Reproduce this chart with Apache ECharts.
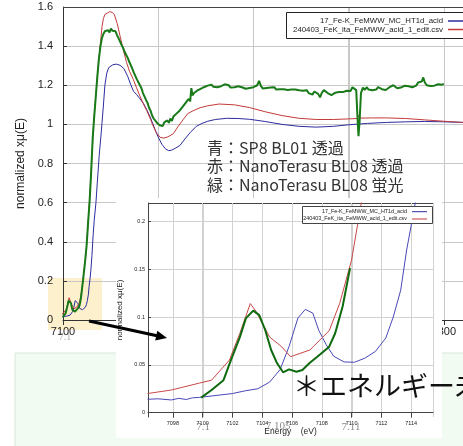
<!DOCTYPE html>
<html><head><meta charset="utf-8">
<script src="https://cdn.jsdelivr.net/npm/echarts@6/dist/echarts.min.js"></script>
<style>html,body{margin:0;padding:0;background:#fff}#c{width:463px;height:446px}</style>
</head><body><div id="c"></div>
<script>
// ---------- data (energy eV, normalized xmu) ----------
const nameBlue = '17_Fe-K_FeMWW_MC_HT1d_acid';
const nameRed = '240403_FeK_ita_FeMWW_acid_1_edit.csv';
const nameGreen = 'NanoTerasu BL08 fluorescence';

const blueData = [
[7096.3,0.014],[7097,0.0145],[7097.9,0.0133],[7098.4,0.015],[7098.9,0.0138],[7099.3,0.0155],[7099.8,0.016],
[7100.9,0.018],[7102,0.02],[7102.9,0.023],[7103.7,0.025],[7104.5,0.032],[7105.2,0.045],[7105.8,0.069],
[7106.4,0.099],[7106.9,0.108],[7107.4,0.104],[7107.8,0.086],[7108.3,0.071],[7108.8,0.059],[7109.5,0.053],
[7110.2,0.0527],[7110.9,0.057],[7111.6,0.064],[7112.3,0.078],[7112.8,0.1],[7113.3,0.128],[7113.7,0.17],
[7114.2,0.212],[7114.6,0.25],[7115.2,0.33],[7115.8,0.43],[7116.4,0.51],[7117.3,0.6],[7118,0.7],[7119,0.84],
[7120,0.95],[7120.5,1.01],[7121.2,1.094],[7122,1.2],[7123,1.262],[7124,1.29],[7126,1.304],[7128,1.308],
[7130,1.302],[7132,1.285],[7134,1.245],[7135.5,1.205],[7137,1.17],[7138.7,1.152],[7140.5,1.13],[7142.2,1.108],
[7144,1.075],[7145.7,1.04],[7148.3,0.975],[7150,0.935],[7152,0.897],[7154,0.873],[7155.5,0.866],[7157,0.868],
[7159,0.878],[7161.4,0.892],[7164,0.925],[7166.7,0.957],[7170,0.99],[7173,1.005],[7176,1.016],[7180,1.025],
[7186,1.031],[7192,1.03],[7198,1.026],[7206,1.015],[7215,1.0],[7224,0.99],[7233,0.986],[7242,0.99],
[7250,0.998],[7260,1.005],[7270,1.01],[7280,1.013],[7290,1.015],[7300,1.013],[7310,1.01],[7325,1.007],[7340,1.005]
];

const redData = [
[7096.3,0.02],[7097.9,0.0237],[7099.8,0.031],[7100.6,0.034],[7101.8,0.055],[7102.5,0.083],[7103.2,0.114],
[7103.6,0.1055],[7104.5,0.079],[7105.3,0.069],[7105.9,0.0585],[7107.2,0.0655],[7108.5,0.0857],[7109.2,0.114],
[7110,0.1595],[7110.5,0.205],[7111,0.25],[7112,0.33],[7113,0.47],[7114,0.62],[7115,0.8],[7116,0.99],
[7117,1.12],[7118,1.24],[7119,1.35],[7119.8,1.43],[7120.5,1.5],[7121.2,1.54],[7122,1.562],[7123,1.572],
[7124.5,1.576],[7126,1.572],[7127,1.56],[7128.5,1.515],[7130,1.45],[7131.7,1.38],[7133.4,1.316],[7135,1.27],
[7136.9,1.23],[7138.5,1.19],[7140.4,1.145],[7142.2,1.105],[7144,1.07],[7146,1.025],[7147.4,0.991],[7149,0.958],
[7151,0.934],[7153,0.93],[7155,0.936],[7157.9,0.952],[7160.5,0.99],[7163.2,1.026],[7165.5,1.055],[7168.4,1.07],
[7172,1.085],[7176,1.095],[7182,1.104],[7190,1.1],[7198,1.086],[7206,1.065],[7215,1.045],[7224,1.031],
[7233,1.025],[7242,1.025],[7250,1.028],[7254.5,1.03],[7255.4,1.048],[7256.3,1.032],[7262,1.033],[7270,1.033],
[7280,1.03],[7290,1.023],[7300,1.016],[7310,1.01],[7325,1.006],[7340,1.002]
];

const greenPreEdge = [
[7099.9,0.0157],[7100.6,0.0237],[7101.4,0.034],[7101.9,0.055],[7102.5,0.079],[7102.9,0.0986],[7103.4,0.1066],
[7103.8,0.102],[7104.2,0.0864],[7104.6,0.0655],[7105.0,0.0516],[7105.4,0.0422],[7105.8,0.0453],[7106.3,0.0428],
[7106.7,0.0446],[7107.2,0.0522],[7107.7,0.0585],[7108.1,0.0637],[7108.5,0.069],[7108.9,0.083],[7109.4,0.111],
[7109.9,0.151]
];

const greenEdge = [
[7110.6,0.21],[7111.5,0.29],[7112.4,0.38],[7113.2,0.5],[7114,0.61],[7114.8,0.76],[7115.6,0.93],[7116.4,1.04],
[7117.2,1.14],[7118,1.24],[7118.8,1.33],[7119.6,1.395],[7120.4,1.44],[7121.2,1.462],[7122,1.476],[7122.8,1.468],
[7123.6,1.482],[7124.4,1.47],[7125.2,1.49],[7126,1.478],[7126.8,1.47],[7127.6,1.476],[7128.4,1.455],[7129.2,1.44],
[7130,1.43],[7130.8,1.405],[7131.6,1.39],[7132.4,1.37],[7133.2,1.355],[7134,1.34],[7134.8,1.32],[7135.6,1.31],
[7136.4,1.285],[7137.2,1.265],[7138,1.255],[7138.8,1.23],[7139.6,1.215],[7140.4,1.2],[7141.2,1.185],[7142,1.16],
[7142.8,1.15],[7143.6,1.125],[7144.4,1.11],[7145.2,1.085],[7146,1.07],[7146.8,1.045],[7147.6,1.03],[7148.4,1.02],
[7149.2,1.01],[7150,1.015],[7150.8,0.995],[7151.6,1.005],[7152.4,0.992],[7153.2,1.01],[7154,1.0],[7154.8,1.02],
[7155.6,1.008],[7156.4,1.03],[7157.2,1.018],[7158,1.04],[7158.8,1.03],[7159.6,1.055],[7160.4,1.045],[7161.2,1.07],
[7162,1.062],[7162.8,1.09],[7163.6,1.08],[7164.4,1.11],[7165.2,1.1],[7166,1.13],[7166.8,1.118],[7167.4,1.185],
[7168,1.148],[7168.8,1.16],[7169.6,1.15],[7170.4,1.172],[7171.2,1.165],[7172,1.18],[7173,1.17],[7174,1.19],
[7175,1.182],[7176,1.198],[7177,1.19],[7178,1.203],[7179,1.192],[7180,1.2],[7181,1.19],[7182,1.185],[7183,1.195],
[7184,1.19],[7185,1.205],[7186,1.198],[7187,1.2],[7188,1.188],[7189,1.195],[7190,1.19],[7191,1.2],[7192,1.195],
[7193,1.202],[7194,1.19],[7195,1.185],[7196,1.182],[7197,1.19],[7198,1.186],[7199,1.196],[7200,1.19],[7201,1.185],
[7202,1.2],[7203,1.222],[7204,1.196],[7205,1.183],[7206,1.19],[7207,1.186],[7208,1.195],[7209,1.188],[7210,1.183],
[7211,1.19],[7212,1.178],[7213,1.185],[7214,1.18],[7215,1.186],[7216,1.179],[7217,1.183],[7218,1.176],[7219,1.181],
[7220,1.178],[7221,1.184],[7222,1.178],[7223,1.182],[7224,1.174],[7225,1.18],[7226,1.172],[7227,1.165],[7228,1.175],
[7229,1.16],[7230,1.17],[7231,1.152],[7232,1.168],[7233,1.16],[7234,1.156],[7235,1.138],[7236,1.162],[7237,1.175],
[7238,1.168],[7239,1.16],[7240,1.17],[7241,1.15],[7242,1.148],[7243,1.162],[7244,1.172],[7245,1.165],[7246,1.175],
[7247,1.165],[7248,1.158],[7249,1.172],[7250,1.178],[7251,1.17],[7252,1.19],[7253,1.196],[7254,1.175],[7254.6,1.05],
[7255.2,0.94],[7255.8,1.02],[7256.5,1.16],[7257.5,1.188],[7258.5,1.176],[7259.5,1.19],[7260.5,1.178],[7261.5,1.185],
[7262.5,1.174],[7263.5,1.182],[7264.5,1.178],[7265.5,1.19],[7266.5,1.194],[7267.5,1.18],[7268.5,1.187],[7269.5,1.176],
[7270.5,1.185],[7271.5,1.19],[7272.5,1.18],[7273.5,1.2],[7274.5,1.19],[7275.5,1.185],[7276.5,1.195],[7277.5,1.188],
[7278.5,1.19],[7279.5,1.198],[7280.5,1.205],[7281.5,1.195],[7282.5,1.2],[7283.5,1.19],[7284.5,1.2],[7285.5,1.198],
[7286.5,1.214],[7287.5,1.205],[7288.5,1.22],[7289.2,1.24],[7290,1.215],[7291,1.2],[7292,1.205],[7293,1.196],
[7294,1.192],[7295,1.198],[7296,1.2],[7297,1.205],[7298,1.2],[7299,1.203],[7300,1.206]
];

const greenData = greenPreEdge.concat(greenEdge);

// axis extents and vertical grid tick values
const mainXRange = [7100, 7350];
const mainYRange = [0, 1.6];
const insetXRange = [7096.33, 7115.47];
const insetYRange = [-0.0045, 0.2191];
const mainGridX = [7150, 7200, 7250, 7300];
const insetGridX = [7098, 7100, 7102, 7104, 7106, 7108, 7110, 7112, 7114];

const annotationLines = ['青：SP8 BL01 透過', '赤：NanoTerasu BL08 透過', '緑：NanoTerasu BL08 蛍光'];
const ghostLabels = ['7.1', '7.105', '7.11'];
const bigNote = '＊エネルギー未';

// ---------- chart ----------
const FONT = '"Liberation Sans", Arial, sans-serif';
const JP = '"Noto Sans CJK JP", sans-serif';
const intFmt = v => String(Math.round(v));

const chart = echarts.init(document.getElementById('c'), null, {renderer: 'canvas'});

const legendBase = {orient: 'vertical', align: 'right', padding: 0, selectedMode: false, icon: 'rect', itemGap: 0};
const txt = (id, x, y, text, size, family, fill, z, align) => ({id: id, type: 'text', x: x, y: y, z: z, silent: true,
  style: {text: text, fontSize: size, fontFamily: family, fill: fill, align: align || 'left', textAlign: align || 'left',
          verticalAlign: 'middle', textVerticalAlign: 'middle'}});

const option = {
  animation: false,
  backgroundColor: '#ffffff',
  grid: [
    {left: 63, top: 7, right: -76, bottom: 126, outerBoundsMode: 'none', containLabel: false},
    {left: 148, top: 203, right: 30, bottom: 29, outerBoundsMode: 'none', containLabel: false}
  ],
  xAxis: [
    {gridIndex: 0, type: 'value', min: mainXRange[0], max: mainXRange[1], interval: 50,
     axisLine: {lineStyle: {color: '#333'}},
     axisLabel: {fontSize: 11, color: '#222', margin: 6, fontFamily: FONT, formatter: intFmt},
     splitLine: {show: true, lineStyle: {color: '#c8c8c8'}}},
    {gridIndex: 1, type: 'value', min: insetXRange[0], max: insetXRange[1], splitNumber: 10, minInterval: 2, maxInterval: 2, z: 12,
     axisLine: {lineStyle: {color: '#444'}},
     axisLabel: {fontSize: 5.5, color: '#222', margin: 3, fontFamily: FONT, formatter: intFmt, showMinLabel: false, showMaxLabel: false},
     splitLine: {show: true, lineStyle: {color: '#d2d2d2'}},
     name: 'Energy    (eV)', nameLocation: 'middle', nameGap: 8.5,
     nameTextStyle: {fontSize: 8.5, color: '#222', fontFamily: FONT}}
  ],
  yAxis: [
    {gridIndex: 0, type: 'value', min: mainYRange[0], max: mainYRange[1], interval: 0.2,
     axisLine: {show: true, lineStyle: {color: '#333'}},
     axisTick: {show: true, inside: true, length: 4, lineStyle: {color: '#333'}},
     axisLabel: {fontSize: 11, color: '#222', margin: 10, fontFamily: FONT},
     splitLine: {show: true, showMaxLine: false, lineStyle: {color: '#c8c8c8'}},
     name: 'normalized xμ(E)', nameLocation: 'middle', nameGap: 32,
     nameTextStyle: {fontSize: 12, color: '#222', fontFamily: FONT}},
    {gridIndex: 1, type: 'value', min: insetYRange[0], max: insetYRange[1], splitNumber: 5, minInterval: 0.05, maxInterval: 0.05, z: 12,
     axisLine: {show: true, lineStyle: {color: '#444'}},
     axisTick: {show: true, inside: true, length: 3, lineStyle: {color: '#444'}},
     axisLabel: {fontSize: 5.5, color: '#222', margin: 3, fontFamily: FONT, showMinLabel: false, showMaxLabel: false},
     splitLine: {show: true, showMinLine: false, showMaxLine: false, lineStyle: {color: '#d2d2d2'}},
     name: 'normalized xμ(E)', nameLocation: 'middle', nameGap: 21,
     nameTextStyle: {fontSize: 8, color: '#222', fontFamily: FONT}}
  ],
  legend: [
    Object.assign({}, legendBase, {data: [nameBlue], right: -7, top: 17, itemWidth: 22, itemHeight: 1.5, z: 5,
      textStyle: {fontFamily: FONT, color: '#222', fontSize: 7.8, lineHeight: 8}}),
    Object.assign({}, legendBase, {data: [nameRed], right: -7, top: 25.5, itemWidth: 22, itemHeight: 1.5, z: 5,
      textStyle: {fontFamily: FONT, color: '#222', fontSize: 7.8, lineHeight: 8}}),
    Object.assign({}, legendBase, {data: [nameBlue], right: 36, top: 208.7, itemWidth: 15, itemHeight: 1, z: 15,
      textStyle: {fontFamily: FONT, color: '#222', fontSize: 5.4, lineHeight: 6}}),
    Object.assign({}, legendBase, {data: [nameRed], right: 36, top: 216, itemWidth: 15, itemHeight: 1, z: 15,
      textStyle: {fontFamily: FONT, color: '#222', fontSize: 5.4, lineHeight: 6}})
  ],
  series: [
    {name: nameBlue, type: 'line', xAxisIndex: 0, yAxisIndex: 0, data: blueData, symbol: 'none', clip: false, z: 2,
     lineStyle: {color: '#2c2ca0', width: 1}, itemStyle: {color: '#2c2ca0'}},
    {name: nameRed, type: 'line', xAxisIndex: 0, yAxisIndex: 0, data: redData, symbol: 'none', clip: false, z: 2,
     lineStyle: {color: '#c43a3a', width: 1}, itemStyle: {color: '#c43a3a'}},
    {name: nameGreen, type: 'line', xAxisIndex: 0, yAxisIndex: 0, data: greenData, symbol: 'none', clip: false, z: 3,
     lineStyle: {color: '#187a18', width: 2}, itemStyle: {color: '#187a18'}},
    {name: nameBlue, type: 'line', xAxisIndex: 1, yAxisIndex: 1, data: blueData, symbol: 'none', clip: true, z: 13,
     lineStyle: {color: '#4848b8', width: 1}, itemStyle: {color: '#4848b8'}},
    {name: nameRed, type: 'line', xAxisIndex: 1, yAxisIndex: 1, data: redData, symbol: 'none', clip: true, z: 13,
     lineStyle: {color: '#c84848', width: 1}, itemStyle: {color: '#c84848'}},
    {name: nameGreen, type: 'line', xAxisIndex: 1, yAxisIndex: 1, data: greenPreEdge, symbol: 'none', clip: true, z: 13,
     lineStyle: {color: '#0e6a0e', width: 2}, itemStyle: {color: '#0e6a0e'}}
  ],
  graphic: {elements: [
    {id: 'band', type: 'rect', shape: {x: 15, y: 353, width: 460, height: 100}, style: {fill: '#f1fbf1', stroke: '#dde6dd', lineWidth: 1}, z: -2, silent: true},
    {id: 'hl', type: 'rect', shape: {x: 48, y: 278, width: 54, height: 52}, style: {fill: '#fdf0cd'}, z: -1, silent: true},
    {id: 'lgbox', type: 'rect', shape: {x: 286.5, y: 12.5, width: 200, height: 26}, style: {fill: '#fff', stroke: '#222', lineWidth: 1}, z: 4, silent: true},
    txt('a1', 207, 147.5, annotationLines[0], 16, JP, '#333', 4),
    txt('a2', 207, 166, annotationLines[1], 16, JP, '#333', 4),
    txt('a3', 207, 184.5, annotationLines[2], 16, JP, '#333', 4),
    txt('g0', 65, 337, '7.1', 10, '"Liberation Serif", serif', '#b0b0b0', -1, 'center'),
    {id: 'insetbg', type: 'rect', shape: {x: 116, y: 198, width: 326, height: 240}, style: {fill: '#fff'}, z: 10, silent: true},
    {id: 'ilgbox', type: 'rect', shape: {x: 302.5, y: 206.5, width: 130, height: 17}, style: {fill: '#fff', stroke: '#444', lineWidth: 1}, z: 14, silent: true},
    txt('g1', 203, 427, ghostLabels[0], 11, '"Liberation Serif", serif', '#8c8c8c', 16, 'center'),
    txt('g2', 278, 426, ghostLabels[1], 11, '"Liberation Serif", serif', '#8c8c8c', 16, 'center'),
    txt('g3', 351, 427, ghostLabels[2], 11, '"Liberation Serif", serif', '#8c8c8c', 16, 'center'),
    {id: 'arrow', type: 'line', shape: {x1: 89, y1: 321, x2: 157, y2: 335.7}, style: {stroke: '#000', lineWidth: 3}, z: 17, silent: true},
    {id: 'arrowhead', type: 'polygon', shape: {points: [[167, 338], [155.2, 340.6], [157.3, 330.8]]}, style: {fill: '#000'}, z: 17, silent: true},
    {id: 'big', type: 'text', x: 293, y: 386, z: 18, silent: true, style: {text: bigNote, fontSize: 27, fontFamily: JP, fill: '#111',
      verticalAlign: 'middle', textVerticalAlign: 'middle', shadowColor: 'rgba(0,0,0,0.35)', shadowBlur: 3, shadowOffsetX: 1.5, shadowOffsetY: 1.5}}
  ]}
};
chart.setOption(option);

// vertical grid lines and plot frames, positioned through the chart's own axis scales
const px = (axis, idx, v) => chart.convertToPixel(axis === 'x' ? {xAxisIndex: idx} : {yAxisIndex: idx}, v);
const snap = v => Math.round(v) + 0.5;
const extra = [];
const mTop = px('y', 0, mainYRange[1]), mBot = px('y', 0, mainYRange[0]);
mainGridX.forEach((v, i) => {
  const x = snap(px('x', 0, v));
  extra.push({id: 'mg' + i, type: 'line', shape: {x1: x, y1: mTop, x2: x, y2: mBot}, style: {stroke: '#c8c8c8', lineWidth: 1}, z: 1, silent: true});
});
const mLeft = px('x', 0, mainXRange[0]), mRight = px('x', 0, mainXRange[1]);
extra.push({id: 'mtop', type: 'line', shape: {x1: mLeft, y1: snap(mTop), x2: mRight, y2: snap(mTop)}, style: {stroke: '#444', lineWidth: 1}, z: 1, silent: true});
const iTop = px('y', 1, insetYRange[1]), iBot = px('y', 1, insetYRange[0]);
const iLeft = px('x', 1, insetXRange[0]), iRight = px('x', 1, insetXRange[1]);
insetGridX.forEach((v, i) => {
  const x = snap(px('x', 1, v));
  extra.push({id: 'ig' + i, type: 'line', shape: {x1: x, y1: iTop, x2: x, y2: iBot}, style: {stroke: '#d2d2d2', lineWidth: 1}, z: 12, silent: true});
});
extra.push({id: 'itop', type: 'line', shape: {x1: iLeft, y1: snap(iTop), x2: iRight, y2: snap(iTop)}, style: {stroke: '#444', lineWidth: 1}, z: 12, silent: true});
extra.push({id: 'iright', type: 'line', shape: {x1: snap(iRight), y1: iTop, x2: snap(iRight), y2: iBot}, style: {stroke: '#444', lineWidth: 1}, z: 12, silent: true});
chart.setOption({graphic: {elements: extra}});
</script></body></html>
